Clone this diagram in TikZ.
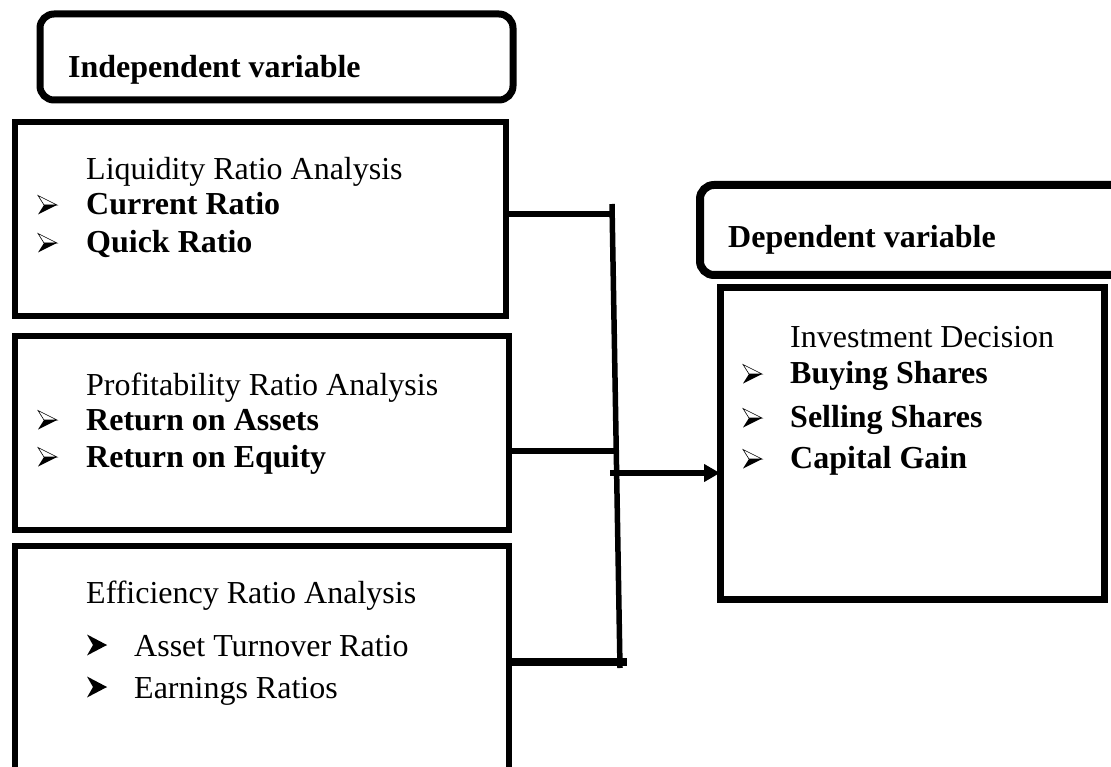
\documentclass[tikz,border=0pt]{standalone}
\usepackage{fontspec}
\setmainfont{Liberation Serif}
\usetikzlibrary{arrows.meta}
\tikzset{
  bul/.pic={
    \filldraw[fill=white,draw=black,line width=0.6pt] (0,-9.5) -- (19,0) -- (6,0) -- cycle;
    \fill[black] (0,9.5) -- (19,0) -- (6,0) -- cycle;
  },
  bulb/.pic={
    \fill[black] (0,-10.5) -- (20,0) -- (6,0) -- cycle;
    \fill[black] (0,10.5) -- (20,0) -- (6,0) -- cycle;
  }
}
\begin{document}
\begin{tikzpicture}[x=1pt,y=-1pt,
  rbox/.style={draw,line width=7pt,rounded corners=14pt,inner sep=0pt,outer sep=0pt},
  sbox/.style={draw,line width=6pt,inner sep=0pt,outer sep=0pt},
  lbl/.style={anchor=base west,inner sep=0pt,font=\fontsize{32}{38}\selectfont},
  blbl/.style={anchor=base west,inner sep=0pt,font=\fontsize{32}{38}\selectfont\bfseries},
  conn/.style={line width=5.5pt},
  ]
\clip (0,0) rectangle (1111,767);
\fill[white] (0,0) rectangle (1111,767);

% boxes
\node[rbox,minimum width=473pt,minimum height=86pt] (indep) at (276.5,57) {};
\node[sbox,minimum width=491pt,minimum height=194pt] (liq) at (260.5,219) {};
\node[sbox,minimum width=494pt,minimum height=194pt] (prof) at (262,433) {};
\node[sbox,minimum width=494pt,minimum height=254pt] (eff) at (262,673) {};
\node[rbox,line width=8pt,minimum width=430pt,minimum height=90pt] (dep) at (915,230) {};
\node[sbox,line width=7pt,minimum width=384pt,minimum height=311pt] (inv) at (912,443.5) {};

% texts
\node[blbl] (tIndep) at (68,78) {Independent variable};
\node[lbl] (tLiq) at (86,180) {Liquidity Ratio Analysis};
\node[blbl] (tCur) at (86,215) {Current Ratio};
\node[blbl] (tQuick) at (86,253) {Quick Ratio};
\pic at (38,205) {bul};
\pic at (38,243) {bul};

\node[lbl] (tProf) at (86,395) {Profitability Ratio Analysis};
\node[blbl] (tRoa) at (86,430) {Return on Assets};
\node[blbl] (tRoe) at (86,467) {Return on Equity};
\pic at (38,420) {bul};
\pic at (38,457) {bul};

\node[lbl] (tEff) at (86,603) {Efficiency Ratio Analysis};
\node[lbl] (tAtr) at (134,656) {Asset Turnover Ratio};
\node[lbl] (tEr) at (134,698) {Earnings Ratios};
\pic at (87,645) {bulb};
\pic at (87,687) {bulb};

\node[blbl] (tDep) at (728,248) {Dependent variable};
\node[lbl] (tInv) at (790,347) {Investment Decision};
\node[blbl] (tBuy) at (790,383) {Buying Shares};
\node[blbl] (tSell) at (790,427) {Selling Shares};
\node[blbl] (tCap) at (790,468) {Capital Gain};
\pic at (743,374) {bul};
\pic at (743,418) {bul};
\pic at (743,459) {bul};

% connectors
\coordinate (busT) at (612,204);
\coordinate (busB) at (620,668);
\coordinate (b1) at (611,214);
\coordinate (b2) at (615,451);
\coordinate (b3) at (627,662);
\coordinate (a0) at (610,473);
\draw[conn] (busT) -- (busB);
\draw[conn] (liq.east |- b1) -- (b1);
\draw[conn] (prof.east |- b2) -- (b2);
\draw[line width=7.5pt] (eff.east |- b3) -- (b3);
\draw[conn,-{Triangle[length=16pt,width=17pt]}] (a0) -- (inv.west |- a0);
\end{tikzpicture}
\end{document}
